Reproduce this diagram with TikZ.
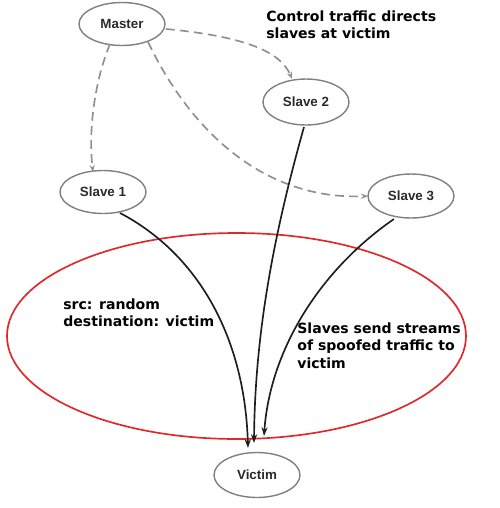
\documentclass[tikz,border=0pt]{standalone}
\usepackage{fontspec}
\setmainfont{DejaVu Sans}
\newfontfamily\nodefont{Liberation Sans}
\usetikzlibrary{shapes.geometric,arrows.meta}
\definecolor{ringgray}{HTML}{808080}
\definecolor{dashgray}{HTML}{909090}
\definecolor{darkline}{HTML}{1E1E1E}
\definecolor{ringred}{HTML}{E02828}
\definecolor{labelgray}{HTML}{2A2A2A}
\tikzset{
  host/.style={ellipse, draw=ringgray, line width=0.8pt, inner sep=0pt,
    minimum width=1.72cm, minimum height=0.86cm,
    font=\nodefont\bfseries\fontsize{7.6}{9}\selectfont, text=labelgray},
  ctrl/.style={draw=dashgray, line width=0.95pt, dash pattern=on 5pt off 3pt,
    -{Stealth[length=4pt,width=3pt]}},
  flood/.style={draw=darkline, line width=0.95pt, -{Stealth[length=5pt,width=3.5pt]}},
  note/.style={align=left, anchor=north west, inner sep=0pt,
    font=\bfseries\fontsize{8}{10}\selectfont, text=black}
}
\begin{document}
\begin{tikzpicture}[x=0.02cm,y=-0.02cm]
\useasboundingbox (0,0) rectangle (500,508);
\draw[ringred, line width=0.95pt] (236.5,336) ellipse [x radius=229.5, y radius=103];
\node[host] (master) at (122,24) {Master};
\node[host, minimum height=0.92cm] (s2) at (306,102) {Slave 2};
\node[host] (s1) at (103,192) {Slave 1};
\node[host, minimum height=0.88cm] (s3) at (411,196) {Slave 3};
\node[host, minimum height=0.9cm] (victim) at (257,475) {Victim};
\node[note] (t1) at (266,10) {Control traffic directs\\slaves at victim};
\node[note] (t2) at (63,298) {src: random\\destination: victim};
\node[note] (t3) at (297,322) {Slaves send streams\\of spoofed traffic to\\victim};
\coordinate (s1a) at (120,213);
\coordinate (s2a) at (304,127);
\coordinate (s3a) at (394,219);
\coordinate (v1) at (248,448);
\coordinate (v2) at (254,443);
\coordinate (v3) at (264,436);
\coordinate (m1) at (110,44);
\coordinate (m2) at (148,42);
\coordinate (m3) at (166,29);
\coordinate (s1t) at (93,172);
\coordinate (s2t) at (292,79);
\coordinate (s3l) at (368,196);
\path[ctrl] (m3) .. controls (240,36) and (280,50) .. (s2t);
\path[ctrl] (m1) .. controls (95,80) and (88,130) .. (s1t);
\path[ctrl] (m2) .. controls (200,150) and (280,200) .. (s3l);
\path[flood] (s1a) .. controls (200,255) and (245,340) .. (v1);
\path[flood] (s2a) .. controls (275,230) and (255,330) .. (v2);
\path[flood] (s3a) .. controls (320,270) and (270,350) .. (v3);
\end{tikzpicture}
\end{document}
